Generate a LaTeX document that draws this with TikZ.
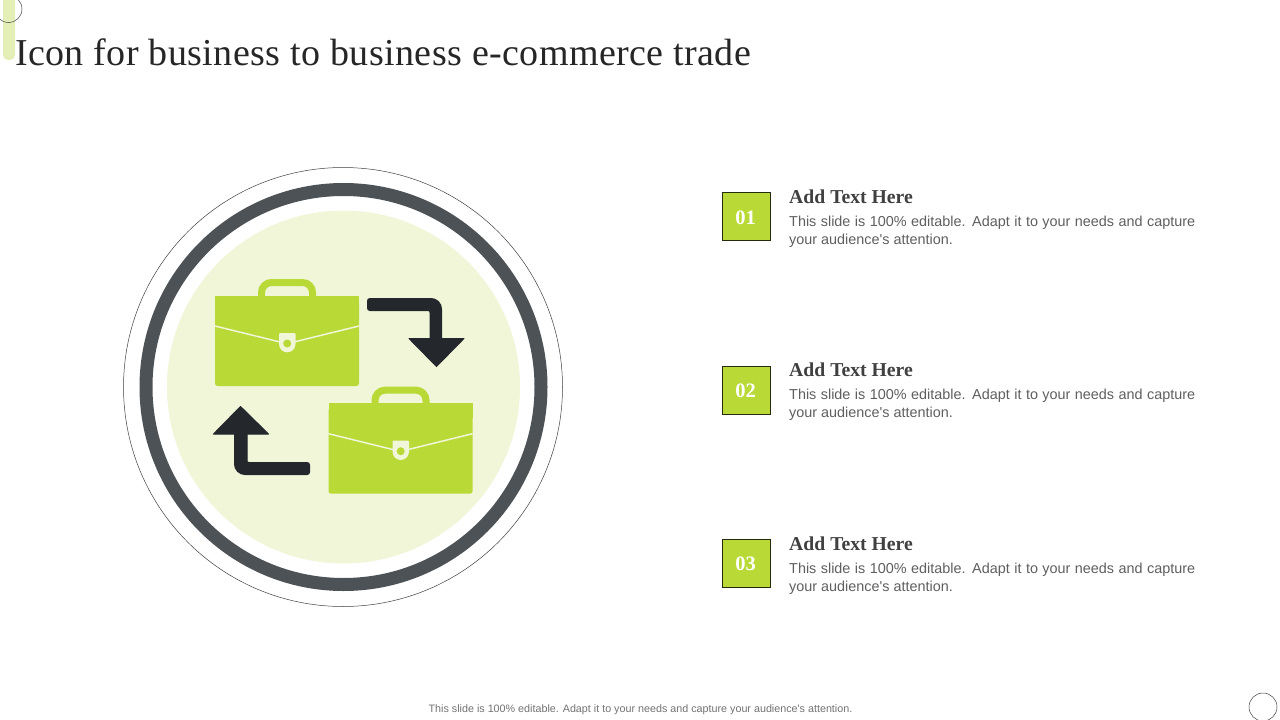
\documentclass[tikz,border=0pt]{standalone}
\usepackage{fontspec}
\setmainfont{Liberation Serif}
\newfontfamily\sansf{Liberation Sans}
\newfontfamily\titlef[LetterSpace=1.1]{Liberation Serif}
\definecolor{leaf}{HTML}{B9D936}
\definecolor{pale}{HTML}{F1F6D9}
\definecolor{barc}{HTML}{E4EFB8}
\definecolor{ringc}{HTML}{4D5257}
\definecolor{ink}{HTML}{24272B}
\definecolor{bodyc}{HTML}{5F5F5F}
\tikzset{
  numbox/.style={draw=black!80!leaf,line width=0.9pt,fill=leaf,minimum width=48pt,minimum height=48pt,inner sep=0pt},
  numtxt/.style={text=white,font=\bfseries\fontsize{20.5}{20}\selectfont,inner sep=0pt},
  headtxt/.style={anchor=base west,inner sep=0pt,text=black!75,font=\bfseries\fontsize{19.7}{20}\selectfont},
  bodytxt/.style={anchor=north west,inner sep=0pt,text width=406pt,align=justify,text=bodyc,font=\sansf\fontsize{14.4}{18}\selectfont},
  arrowicon/.style={fill=ink,draw=ink,line width=1pt,line join=round},
  thinring/.style={circle,draw=black!75,line width=0.5pt,inner sep=0pt}
}
\newcommand{\briefcase}[2]{%
  \begin{scope}[shift={(#1,#2)}]
    \draw[leaf,line width=7pt,rounded corners=10pt] (261.5,298) -- (261.5,282.5) -- (312.5,282.5) -- (312.5,298);
    \fill[leaf,rounded corners=2.5pt] (215,300) rectangle (359,386);
    \fill[leaf] (215,295.5) rectangle (359,310);
    \draw[pale,line width=1.5pt] (215,326) -- (280,342) (294,342) -- (359,326);
    \fill[pale] (280,333) -- (294.5,333) .. controls (295.2,333) and (295.5,333.4) .. (295.5,334) -- (295.5,344) .. controls (295.5,348.6) and (291.8,352.3) .. (287.2,352.3) .. controls (282.7,352.3) and (279,348.6) .. (279,344) -- (279,334) .. controls (279,333.4) and (279.4,333) .. (280,333) -- cycle;
    \fill[leaf] (287.2,343.5) circle[radius=4];
  \end{scope}}
\begin{document}
\begin{tikzpicture}[x=1pt,y=-1pt]
\useasboundingbox (0,0) rectangle (1280,720);
\fill[white] (0,0) rectangle (1280,720);
\begin{scope}
\clip (0,0) rectangle (1280,720);
\fill[barc,rounded corners=5pt] (3,-12) rectangle (15,60);
\node[thinring,minimum size=27pt] (topcirc) at (8.5,9) {};
\end{scope}
\node[thinring,minimum size=28pt] (botcirc) at (1263,707) {};
\node[anchor=base west,inner sep=0pt,text=black!85,font=\titlef\fontsize{38}{40}\selectfont] (title) at (15,65) {Icon for business to business e-commerce trade};

\node[thinring,minimum size=439pt] (outer) at (343,387) {};
\node[circle,draw=ringc,line width=13pt,minimum size=395pt,inner sep=0pt] (ring) at (343.5,387) {};
\node[circle,fill=pale,minimum size=353pt,inner sep=0pt] (disc) at (343.5,387) {};

\briefcase{0}{0}
\briefcase{113.5}{107.7}

\path[arrowicon] (370,298.5) -- (431,298.5) .. controls (436.8,298.5) and (441.5,303.2) .. (441.5,309) -- (441.5,338.5) -- (464,338.5) -- (436.5,366.5) -- (409,338.5) -- (430,338.5) -- (430,312.5) .. controls (430,311.2) and (429.5,310.5) .. (428,310.5) -- (370,310.5) .. controls (368.5,310.5) and (367.5,309.5) .. (367.5,308) -- (367.5,301) .. controls (367.5,299.5) and (368.5,298.5) .. (370,298.5) -- cycle;
\path[arrowicon] (307,474.5) -- (245,474.5) .. controls (239.2,474.5) and (234.5,469.8) .. (234.5,464) -- (234.5,434) -- (213.5,434) -- (240.5,406.5) -- (268.5,434) -- (247,434) -- (247,460.5) .. controls (247,461.8) and (247.5,462.5) .. (249,462.5) -- (307,462.5) .. controls (308.5,462.5) and (309.5,463.5) .. (309.5,465) -- (309.5,472) .. controls (309.5,473.5) and (308.5,474.5) .. (307,474.5) -- cycle;

\node[numbox] (n1) at (746.5,216.5) {}; \node[numtxt] (t1) at (745.7,217.5) {01};
\node[numbox] (n2) at (746.5,390) {}; \node[numtxt] (t2) at (745.7,391) {02};
\node[numbox] (n3) at (746.5,563) {}; \node[numtxt] (t3) at (745.7,564) {03};

\node[headtxt] (h1) at (789,203) {Add Text Here};
\node[headtxt] (h2) at (789,376) {Add Text Here};
\node[headtxt] (h3) at (789,550) {Add Text Here};

\node[bodytxt] (b1) at (789,216) {This slide is 100\% editable. Adapt it to your needs and capture your audience's attention.};
\node[bodytxt] (b2) at (789,389) {This slide is 100\% editable. Adapt it to your needs and capture your audience's attention.};
\node[bodytxt] (b3) at (789,563) {This slide is 100\% editable. Adapt it to your needs and capture your audience's attention.};

\node[inner sep=0pt,text=black!55,font=\sansf\fontsize{10.75}{12}\selectfont] (foot) at (640.5,709.5) {This slide is 100\% editable. Adapt it to your needs and capture your audience's attention.};
\end{tikzpicture}
\end{document}
